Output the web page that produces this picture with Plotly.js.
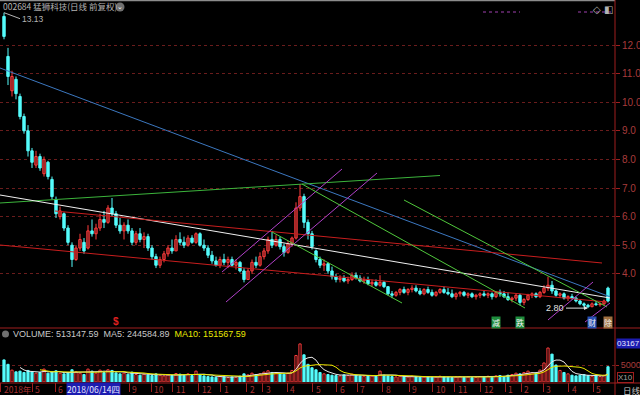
<!DOCTYPE html>
<html><head><meta charset="utf-8">
<script src="https://cdn.plot.ly/plotly-3.0.1.min.js"></script>
<style>html,body{margin:0;padding:0;background:#000;}#c{width:640px;height:395px;}</style>
</head><body><div id="c"></div>
<script>
// ---- data: daily candles (index 0 = first bar shown, May 2018) ----
const openP = [13.0,11.6,10.4,10.8,10.2,9.5,9.0,8.3,7.8,8.1,
7.5,7.9,7.3,6.6,6.0,6.1,5.6,5.0,4.5,4.9,
5.1,4.9,5.5,5.4,5.6,5.9,5.8,6.3,6.1,5.7,
5.5,5.7,5.5,5.1,5.4,5.2,5.3,4.9,4.6,4.3,
4.5,4.7,4.9,4.8,5.2,5.1,5.0,5.25,5.1,5.4,
5.0,4.9,4.65,4.45,4.3,4.5,4.4,4.5,4.3,4.4,
4.1,3.8,4.1,4.4,4.3,4.6,4.8,5.2,5.0,5.2,
4.95,4.75,5.05,5.25,6.3,6.7,5.8,5.4,4.8,4.5,
4.3,4.35,4.1,3.9,3.8,3.85,3.75,3.8,3.95,3.85,
3.75,3.8,3.65,3.7,3.6,3.7,3.55,3.3,3.25,3.35,
3.45,3.35,3.45,3.5,3.4,3.3,3.45,3.35,3.25,3.35,
3.45,3.35,3.3,3.2,3.3,3.35,3.25,3.3,3.2,3.25,
3.3,3.25,3.3,3.2,3.35,3.3,3.2,3.1,3.15,3.25,
3.0,3.1,3.25,3.3,3.2,3.35,3.5,3.6,3.4,3.25,
3.3,3.15,3.2,3.15,3.05,2.95,2.9,2.85,2.95,2.92,
2.95,3.5];
const highP = [13.13,11.9,11.1,10.9,10.3,9.6,9.2,8.4,8.3,8.2,
8.1,7.95,7.4,6.7,6.35,6.15,5.7,5.1,5.0,5.4,
5.25,5.7,5.9,5.75,6.1,6.2,6.4,6.65,6.2,5.95,
5.8,5.9,5.6,5.5,5.6,5.45,5.4,5.0,4.7,4.6,
4.8,5.0,5.2,5.35,5.45,5.3,5.35,5.35,5.45,5.45,
5.2,5.0,4.8,4.6,4.6,4.7,4.6,4.6,4.5,4.45,
4.2,4.2,4.5,4.6,4.75,4.9,5.3,5.5,5.35,5.3,
5.05,5.15,5.3,6.5,7.14,6.8,5.9,5.5,4.85,4.6,
4.5,4.4,4.25,4.0,3.95,3.95,3.9,4.05,4.05,3.95,
3.9,3.9,3.8,3.8,3.95,3.75,3.55,3.4,3.4,3.5,
3.55,3.5,3.6,3.6,3.5,3.5,3.55,3.45,3.4,3.5,
3.55,3.5,3.45,3.35,3.4,3.4,3.35,3.35,3.3,3.35,
3.4,3.35,3.35,3.4,3.45,3.4,3.35,3.2,3.3,3.3,
3.15,3.3,3.35,3.35,3.4,3.6,3.9,3.75,3.45,3.35,
3.35,3.25,3.3,3.2,3.1,3.0,2.95,3.0,3.05,3.0,
3.1,3.55];
const lowP = [12.2,10.6,10.2,10.1,9.4,8.9,8.1,7.7,7.7,7.6,
7.4,7.3,6.6,5.95,5.9,5.5,5.0,4.24,4.45,4.8,
4.7,4.85,5.3,5.2,5.5,5.6,5.75,6.0,5.6,5.4,
5.2,5.4,5.0,5.0,5.1,4.9,4.8,4.5,4.2,4.2,
4.4,4.6,4.7,4.8,5.0,4.9,4.95,5.05,5.05,4.95,
4.8,4.55,4.35,4.25,4.2,4.3,4.2,4.25,4.15,4.05,
3.7,3.8,4.0,4.2,4.25,4.5,4.7,4.9,4.95,4.85,
4.6,4.7,4.95,5.2,6.2,5.6,5.2,4.85,4.4,4.2,
4.1,4.0,3.8,3.7,3.7,3.7,3.65,3.75,3.8,3.7,
3.65,3.6,3.55,3.55,3.55,3.5,3.25,3.15,3.2,3.25,
3.3,3.25,3.35,3.35,3.25,3.25,3.3,3.2,3.2,3.3,
3.3,3.25,3.15,3.1,3.2,3.2,3.15,3.15,3.1,3.15,
3.2,3.15,3.1,3.15,3.2,3.15,3.05,3.0,3.05,2.9,
2.9,3.05,3.15,3.15,3.15,3.3,3.4,3.3,3.2,3.15,
3.1,3.05,3.1,3.0,2.9,2.82,2.80,2.83,2.88,2.85,
2.9,3.0];
const closeP = [12.3,10.9,10.9,10.3,9.5,9.0,8.3,7.9,8.1,7.7,
8.0,7.4,6.7,6.1,6.2,5.6,5.1,4.5,4.9,5.2,
4.8,5.5,5.4,5.6,5.9,5.8,6.3,6.1,5.7,5.5,
5.7,5.5,5.1,5.4,5.2,5.3,4.9,4.6,4.3,4.5,
4.7,4.9,4.8,5.2,5.1,5.0,5.25,5.1,5.4,5.0,
4.9,4.65,4.45,4.3,4.5,4.4,4.5,4.3,4.4,4.1,
3.8,4.1,4.4,4.3,4.6,4.8,5.2,5.0,5.2,4.95,
4.75,5.05,5.25,6.3,6.7,5.8,5.4,4.95,4.5,4.3,
4.35,4.1,3.9,3.8,3.85,3.75,3.8,3.95,3.85,3.75,
3.8,3.65,3.7,3.6,3.7,3.55,3.3,3.25,3.35,3.45,
3.35,3.45,3.5,3.4,3.3,3.45,3.35,3.25,3.35,3.45,
3.35,3.3,3.2,3.3,3.35,3.25,3.3,3.2,3.25,3.3,
3.25,3.3,3.2,3.35,3.3,3.2,3.1,3.15,3.25,3.0,
3.1,3.25,3.3,3.2,3.35,3.5,3.6,3.4,3.25,3.3,
3.15,3.2,3.15,3.05,2.95,2.9,2.85,2.95,2.92,2.95,
3.05,3.05];
const volume = [6500,5200,3500,3000,3200,2800,3400,3000,2600,2800,
3800,2600,2900,3300,2600,2400,2700,3600,3000,2600,
2200,3800,3200,2600,3500,2800,3600,3400,2700,2400,
2600,2300,2900,2200,2000,2300,2100,1900,2400,2000,
1800,2100,1900,2500,2300,2000,2400,1900,3200,2200,
1800,1600,1500,1400,1600,1500,1300,1500,1400,1700,
2400,2100,2600,2200,2400,2900,3300,2800,2600,2400,
2300,2600,3400,7800,11200,8000,5200,4200,3600,2800,
2400,2200,2000,1900,1800,2100,1900,2300,2000,1800,
1700,1900,1800,1700,3200,2000,1800,1600,1500,1700,
1600,1500,1700,1600,1400,1500,1600,1400,1500,1700,
1500,1400,1300,1500,1600,1400,1500,1300,1400,1600,
1500,1700,1400,1800,1900,1600,2000,2200,2600,2400,
2800,3200,2700,2600,3500,5600,10000,8200,5000,3400,
2800,2400,2000,1800,2000,2200,1900,1700,1800,1600,
2000,4500];

// price axis ticks
const priceTicks = [4,5,6,7,8,9,10,11,12];
const priceTickText = ['4.0','5.0','6.0','7.0','8.0','9.0','10.0','11.0','12.0'];
// month labels on the date row, with the bar index where each month starts
const monthText = ['2018年','5','6','9','10','11','12','1','2','3','4','5','6','7','8','9','10','11','12','1','2','3','4','5'];
const monthIdx  = [-0.6,7.3,13.1,31.6,37.1,42.4,48.9,54.4,60.9,64.9,71.1,77.4,83.4,88.6,94.9,101.6,107.4,112.9,119.4,125.6,129.6,135.1,141.4,147.6];

// hand-drawn trend lines (bar index, price)
const blueLineX = [-1,151.5],   blueLineY = [11.196,3.197];
const greenTopX = [-1,109],     greenTopY = [6.476,7.437];
const whiteLineX = [-1,151.5],  whiteLineY = [6.755,3.154];
const redUpperX = [12.75,149.5], redUpperY = [6.196,4.378];
const redLowerX = [-1,150.75],  redLowerY = [5.007,3.014];
const purpleAX = [54.5,84.5],   purpleAY = [4.063,7.664];
const purpleBX = [55.5,93.25],  purpleBY = [3.014,7.524];
const greenPeakX = [74.5,130.25], greenPeakY = [7.140,2.804];
const greenRightX = [100,150.75], greenRightY = [6.580,2.839];
const greenShortX = [67,99.5],  greenShortY = [5.462,2.979];
const purpleCX = [136,147.25],  purpleCY = [2.385,3.713];
const purpleDX = [145.25,151.5], purpleDY = [2.315,2.979];

// ---- build ----
const idx = closeP.map((_, i) => i);
function ma(arr, n){ return arr.map((_, i) => { if (i < n-1) return null; let s=0; for(let k=i-n+1;k<=i;k++) s+=arr[k]; return s/n; }); }
const ma5 = ma(volume,5), ma10 = ma(volume,10);
const up = closeP.map((c,i)=> c >= openP[i]);

const RED='#ff3c3c', CYAN='#54fcfc', AX='#a01e1e', TXT='#a83c3c';
const traces = [];
// candles: wicks as line segments, bodies as narrow bars
const upWx=[], upWy=[], dnWx=[], dnWy=[];
idx.forEach(i=>{ const X = up[i]?upWx:dnWx, Y = up[i]?upWy:dnWy; X.push(i,i,null); Y.push(lowP[i],highP[i],null); });
traces.push({type:'scatter',mode:'lines',x:upWx,y:upWy,xaxis:'x',yaxis:'y',line:{color:RED,width:1},hoverinfo:'skip',connectgaps:false});
traces.push({type:'scatter',mode:'lines',x:dnWx,y:dnWy,xaxis:'x',yaxis:'y',line:{color:CYAN,width:1},hoverinfo:'skip',connectgaps:false});
traces.push({type:'bar', x:idx, y:closeP.map((c,i)=>Math.max(Math.abs(c-openP[i]),0.01)), base:closeP.map((c,i)=>Math.min(c,openP[i])),
  xaxis:'x', yaxis:'y', width:0.6,
  marker:{color: up.map(u=>u?'#000':CYAN), line:{color: up.map(u=>u?RED:CYAN), width:1}}, hoverinfo:'skip'});
function ln(x,y,color){ traces.push({type:'scatter',mode:'lines',x:x,y:y,xaxis:'x',yaxis:'y',line:{color:color,width:1},hoverinfo:'skip'}); }
ln(blueLineX, blueLineY, '#3c78c0');
ln(greenTopX, greenTopY, '#3cb43c');
ln(whiteLineX, whiteLineY, '#f0f0f0');
ln(redUpperX, redUpperY, '#c81e1e');
ln(redLowerX, redLowerY, '#c81e1e');
ln(purpleAX, purpleAY, '#b040c8');
ln(purpleBX, purpleBY, '#b040c8');
ln(greenPeakX, greenPeakY, '#50c83c');
ln(greenRightX, greenRightY, '#50c83c');
ln(greenShortX, greenShortY, '#50c83c');
ln(purpleCX, purpleCY, '#b040c8');
ln(purpleDX, purpleDY, '#b040c8');

traces.push({type:'bar', x:idx, y:volume, xaxis:'x2', yaxis:'y2', width:0.55,
  marker:{color: up.map(u=>u?'#000':CYAN), line:{color: up.map(u=>u?RED:CYAN), width:1}}, hoverinfo:'skip'});
traces.push({type:'scatter',mode:'lines',x:idx,y:ma5,xaxis:'x2',yaxis:'y2',line:{color:'#e8e8e8',width:1},hoverinfo:'skip'});
traces.push({type:'scatter',mode:'lines',x:idx,y:ma10,xaxis:'x2',yaxis:'y2',line:{color:'#e8e800',width:1},hoverinfo:'skip'});

const PW = 615, PH = 395;
const px = v => v/PW, py = v => 1 - v/PH;
const NUM = 'Liberation Sans, Arial, sans-serif';
const CJK = 'Noto Sans CJK SC, sans-serif';

const ann = [];
ann.push({xref:'paper',yref:'paper',x:px(1),y:py(6.5),xanchor:'left',yanchor:'middle',showarrow:false,
  text:'002684 猛狮科技(日线 前复权)', font:{family:CJK,size:8.5,color:'#b4b4b4'}});
ann.push({xref:'paper',yref:'paper',x:px(120),y:py(7),xanchor:'center',yanchor:'middle',showarrow:false,
  text:'⌄', font:{family:'DejaVu Sans',size:7,color:'#fff'}});
ann.push({xref:'x',yref:'y',x:0,y:highP[0],ax:16,ay:6,xanchor:'left',showarrow:true,arrowhead:0,arrowwidth:1,arrowcolor:'#b4b4b4',
  text:'13.13', font:{family:NUM,size:8.5,color:'#b4b4b4'}});
ann.push({xref:'x',yref:'y',x:146,y:lowP[146],ax:-22,ay:0,xanchor:'right',showarrow:true,arrowhead:2,arrowsize:0.8,arrowwidth:1,arrowcolor:'#e0e0e0',
  text:'2.80', font:{family:NUM,size:9,color:'#e0e0e0'}});
ann.push({xref:'paper',yref:'paper',x:px(11),y:py(334),xanchor:'left',yanchor:'middle',showarrow:false,
  text:'VOLUME: 513147.59  MA5: 244584.89  <span style="color:#e8e800">MA10: 151567.59</span>', font:{family:NUM,size:9,color:'#c8c8c8'}});
ann.push({xref:'x',yref:'paper',x:28,y:py(321),xanchor:'center',yanchor:'middle',showarrow:false,
  text:'<b>$</b>', font:{family:NUM,size:10,color:'#e02020'}});
// event markers
const evt = [[123,'减','#1e8c3c'],[129,'跌','#1e8c3c'],[147,'财','#2850b4'],[151,'除','#a07040']];
evt.forEach(e=>ann.push({xref:'x',yref:'paper',x:e[0],y:py(322),xanchor:'center',yanchor:'middle',showarrow:false,
  text:e[1], bgcolor:e[2], borderpad:0, font:{family:CJK,size:8,color:'#f0f0f0'}}));
// date row
monthText.forEach((t,i)=>ann.push({xref:'x',yref:'paper',x:monthIdx[i],y:py(389),xanchor:'left',yanchor:'middle',showarrow:false,
  text:t, font:{family:CJK,size:8.5,color:'#a83232'}}));
ann.push({xref:'x',yref:'paper',x:15.4,y:py(389),xanchor:'left',yanchor:'middle',showarrow:false,
  text:'2018/06/14四', bgcolor:'#1c1cb0', borderpad:0, font:{family:CJK,size:8.5,color:'#e8e8ff'}});
ann.push({xref:'paper',yref:'paper',x:px(621),y:py(389.5),xanchor:'left',yanchor:'middle',showarrow:false,
  text:'日线', font:{family:CJK,size:8.5,color:'#c8c8c8'}});
ann.push({xref:'paper',yref:'paper',x:px(617),y:py(377),xanchor:'left',yanchor:'middle',showarrow:false,
  text:'X10', bordercolor:'#a01e1e', borderwidth:1, borderpad:0, font:{family:NUM,size:8,color:'#a0a0a0'}});
ann.push({xref:'paper',yref:'paper',x:px(616),y:py(343),xanchor:'left',yanchor:'middle',showarrow:false,
  text:'03167', bgcolor:'#1c1cb0', borderpad:0, font:{family:NUM,size:8,color:'#e8e8ff'}});
ann.push({xref:'paper',yref:'paper',x:px(597),y:py(9),xanchor:'center',yanchor:'middle',showarrow:false,
  text:'◇', font:{family:'DejaVu Sans',size:10,color:'#b4b4b4'}});
ann.push({xref:'paper',yref:'paper',x:px(608),y:py(9),xanchor:'center',yanchor:'middle',showarrow:false,
  text:'◧', font:{family:'DejaVu Sans',size:10,color:'#b4b4b4'}});

const shapes = [
  {type:'rect',xref:'paper',yref:'paper',x0:0,x1:1,y0:py(1.2),y1:1,fillcolor:'#8c8c8c',line:{width:0}},
  {type:'line',xref:'paper',yref:'paper',x0:1,x1:1,y0:0,y1:1,line:{color:AX,width:1}},
  {type:'line',xref:'paper',yref:'paper',x0:0,x1:px(640),y0:py(328),y1:py(328),line:{color:AX,width:1}},
  {type:'line',xref:'paper',yref:'paper',x0:0,x1:px(640),y0:py(383),y1:py(383),line:{color:AX,width:1}},
  {type:'line',xref:'paper',yref:'paper',x0:px(483),x1:px(520),y0:py(12),y1:py(12),line:{color:'#a040b0',width:1,dash:'dot'}},
  {type:'line',xref:'paper',yref:'paper',x0:px(578),x1:px(612),y0:py(12),y1:py(12),line:{color:'#a040b0',width:1,dash:'dot'}},
  {type:'circle',xref:'paper',yref:'paper',x0:px(115.5),x1:px(124.5),y0:py(11.5),y1:py(2.5),fillcolor:'#707070',line:{width:0}},
  {type:'circle',xref:'paper',yref:'paper',x0:px(2),x1:px(9),y0:py(337.5),y1:py(330.5),fillcolor:'#707070',line:{width:0}}
];

const layout = {
  width:640, height:395, margin:{l:0,r:25,t:0,b:0}, paper_bgcolor:'#000', plot_bgcolor:'#000',
  showlegend:false, hovermode:false, dragmode:false, barmode:'overlay',
  font:{family:NUM,size:10,color:TXT},
  xaxis:{domain:[0,1], range:[-1,152.75], anchor:'y', showgrid:false, zeroline:false, showticklabels:false, ticks:'', fixedrange:true},
  xaxis2:{domain:[0,1], range:[-1,152.75], anchor:'y2', showgrid:false, zeroline:false, showticklabels:false,
    tickmode:'array', tickvals:monthIdx.map(v=>v-0.3), ticks:'outside', ticklen:9, tickcolor:AX, tickwidth:1, fixedrange:true},
  yaxis:{domain:[py(327),py(2)], range:[2.1399,13.5035], anchor:'x', side:'right',
    tickmode:'array', tickvals:priceTicks, ticktext:priceTickText, ticks:'outside', ticklen:4, tickcolor:AX,
    showgrid:true, gridcolor:'#6a1c1c', griddash:'dot', gridwidth:1, zeroline:false, showline:false,
    tickfont:{family:NUM,size:10,color:TXT}, fixedrange:true},
  yaxis2:{domain:[py(382),py(336)], range:[0,13530], anchor:'x2', side:'right',
    tickmode:'array', tickvals:[5000], ticktext:['5000'], ticks:'outside', ticklen:3, tickcolor:AX,
    showgrid:true, gridcolor:'#6a1c1c', griddash:'dot', gridwidth:1, zeroline:false, showline:false,
    tickfont:{family:NUM,size:9,color:TXT}, fixedrange:true},
  annotations:ann, shapes:shapes
};
Plotly.newPlot('c', traces, layout, {staticPlot:true, displayModeBar:false});
</script></body></html>
